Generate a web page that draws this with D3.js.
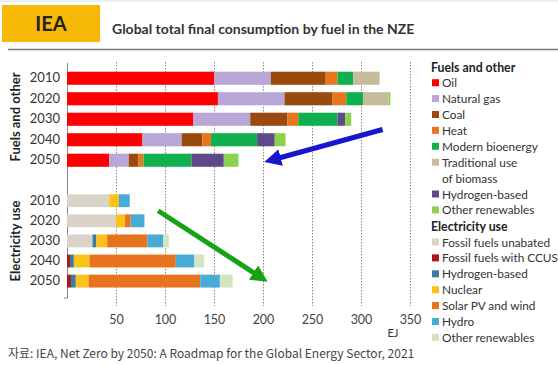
<!DOCTYPE html>
<html><head><meta charset="utf-8">
<script src="https://cdn.jsdelivr.net/npm/d3@7"></script>
<style>
body{margin:0;background:#fff;}
svg{display:block;font-family:Lato,"Noto Sans",sans-serif;}
</style></head>
<body><svg id="c" width="558" height="365"></svg>
<script>
const years = ["2010","2020","2030","2040","2050"];
const fuelSeries = ["Oil","Natural gas","Coal","Heat","Modern bioenergy","Traditional use of biomass","Hydrogen-based","Other renewables"];
const fuelColors = ["#ff0000","#b8a6d6","#9a4a0c","#e8761f","#10b04f","#c6bc9b","#5f4a89","#8bd34f"];
const fuelValues = [
  [150,58,56,12,16,27,0,0],
  [154,68,49,14,17,26,0,2],
  [129,58,38,11,40,0,8,6],
  [77,40,21,9,47,0,18,11],
  [43,20,10,5,49,0,33,15]
];
const elecSeries = ["Fossil fuels unabated","Fossil fuels with CCUS","Hydrogen-based","Nuclear","Solar PV and wind","Hydro","Other renewables"];
const elecColors = ["#d9d4c7","#b3121c","#3a7ca0","#fbc31a","#e8731e","#46acd6","#d6e3c0"];
const elecValues = [
  [43,0,0,10,0,11,0],
  [50,0,0,9,6,14,0],
  [26,0,4,11,41,16,6],
  [0,3,4,16,88,19,10],
  [0,4,5,13,114,20,13]
];
const xTicks = [50,100,150,200,250,300,350];
const arrows = [
  {from:[322,"fuel","2030",0.5], to:[208,"fuel","2050",0], color:"#1616cc"},
  {from:[93,"elec","2010",0.5], to:[199,"elec","2050",-0.15], color:"#16a316"}
];

const svg = d3.select("#c");
const x = d3.scaleLinear().domain([0,350]).range([67,410]);
const yF = d3.scaleBand().domain(years).range([68,170.5]).paddingInner(0.36).paddingOuter(0.18);
const yE = d3.scaleBand().domain(years).range([190.65,291.15]).paddingInner(0.36).paddingOuter(0.18);

svg.append("rect").attr("x",0).attr("y",0).attr("width",558).attr("height",2).attr("fill","#e6f1fa");
svg.append("rect").attr("x",2).attr("y",5).attr("width",98).attr("height",37).attr("fill","#f8b806");
svg.append("text").attr("x",51).attr("y",31).attr("text-anchor","middle").attr("font-size",20).attr("font-weight","bold").attr("fill","#222").text("IEA");
svg.append("text").attr("x",112).attr("y",34).attr("font-size",14).attr("font-weight","bold").attr("fill","#333").text("Global total final consumption by fuel in the NZE");
svg.append("line").attr("x1",8).attr("x2",558).attr("y1",49.5).attr("y2",49.5).attr("stroke","#777").attr("stroke-width",1.3);

svg.append("g").selectAll("line").data(xTicks).join("line")
  .attr("x1",d=>x(d)+0.5).attr("x2",d=>x(d)+0.5).attr("y1",62).attr("y2",306)
  .attr("stroke","#888").attr("stroke-width",1).attr("stroke-dasharray","1.5,1.5");

const xAxis = d3.axisBottom(x).tickValues(xTicks).tickSize(0).tickPadding(0);
const gx = svg.append("g").attr("transform","translate(0,315)").call(xAxis);
gx.select(".domain").remove();
gx.selectAll("text").attr("font-size",12.5).attr("fill","#444").attr("font-family","Lato,sans-serif");
svg.append("text").attr("x",393).attr("y",337).attr("text-anchor","middle").attr("font-size",11).attr("fill","#333").text("EJ");

svg.append("line").attr("x1",67.5).attr("x2",67.5).attr("y1",63).attr("y2",298).attr("stroke","#888");
svg.append("line").attr("x1",64).attr("x2",67.5).attr("y1",298).attr("y2",298).attr("stroke","#888");

function drawGroup(vals, colors, y){
  const rows = vals.map((row,i)=>{
    let c=0; return row.map((v,j)=>{const s={year:years[i],x0:c,x1:c+v,color:colors[j]}; c+=v; return s;});
  }).flat().filter(d=>d.x1>d.x0);
  svg.append("g").selectAll("rect").data(rows).join("rect")
    .attr("x",d=>x(d.x0)).attr("width",d=>x(d.x1)-x(d.x0))
    .attr("y",d=>y(d.year)).attr("height",y.bandwidth()).attr("fill",d=>d.color);
  const ga = svg.append("g").attr("transform","translate(60,0)").call(d3.axisLeft(y).tickSize(0).tickPadding(0));
  ga.select(".domain").remove();
  ga.selectAll("text").attr("font-size",13).attr("fill","#333").attr("font-family","Lato,sans-serif");
}
drawGroup(fuelValues,fuelColors,yF);
drawGroup(elecValues,elecColors,yE);

svg.append("text").attr("transform","translate(20,117) rotate(-90)").attr("text-anchor","middle").attr("font-size",13).attr("font-weight","bold").attr("fill","#222").text("Fuels and other");
svg.append("text").attr("transform","translate(20,241) rotate(-90)").attr("text-anchor","middle").attr("font-size",13).attr("font-weight","bold").attr("fill","#222").text("Electricity use");

const lg = svg.append("g").attr("font-size",11.8).attr("fill","#333");
let ly = 67;
function head(t){lg.append("text").attr("x",431).attr("y",ly+4.5).attr("font-weight","bold").attr("fill","#222").attr("font-size",12.3).text(t); ly+=15.7;}
function item(t,c,extra){
  lg.append("rect").attr("x",432).attr("y",ly-3.5).attr("width",7).attr("height",7).attr("fill",c);
  lg.append("text").attr("x",442).attr("y",ly+4.5).text(t); ly+=15.9;
  if(extra){lg.append("text").attr("x",442).attr("y",ly+4.5).text(extra); ly+=15.9;}
}
head("Fuels and other");
fuelSeries.forEach((s,i)=>{ if(s.startsWith("Traditional")) item("Traditional use",fuelColors[i],"of biomass"); else item(s,fuelColors[i]); });
ly+=0.5;
head("Electricity use");
elecSeries.forEach((s,i)=>item(s,elecColors[i]));

const defs = svg.append("defs");
arrows.forEach((a,i)=>{
  const m = defs.append("marker").attr("id","ah"+i).attr("viewBox","0 0 10 10").attr("refX",6).attr("refY",5)
    .attr("markerWidth",3.4).attr("markerHeight",3.4).attr("orient","auto");
  m.append("path").attr("d","M0,0L10,5L0,10z").attr("fill",a.color);
  const pos = p=>{const y=p[1]==="fuel"?yF:yE; return [x(p[0]), y(p[2])+y.bandwidth()/2 + p[3]*y.step()];};
  const f=pos(a.from), t=pos(a.to);
  svg.append("line").attr("x1",f[0]).attr("y1",f[1]).attr("x2",t[0]).attr("y2",t[1])
    .attr("stroke",a.color).attr("stroke-width",5).attr("marker-end","url(#ah"+i+")");
});

svg.append("text").attr("x",8).attr("y",358).attr("font-size",12).attr("fill","#444")
  .attr("font-family","'Noto Sans CJK KR','Noto Sans',sans-serif")
  .text("자료: IEA, Net Zero by 2050: A Roadmap for the Global Energy Sector, 2021");
</script></body></html>
